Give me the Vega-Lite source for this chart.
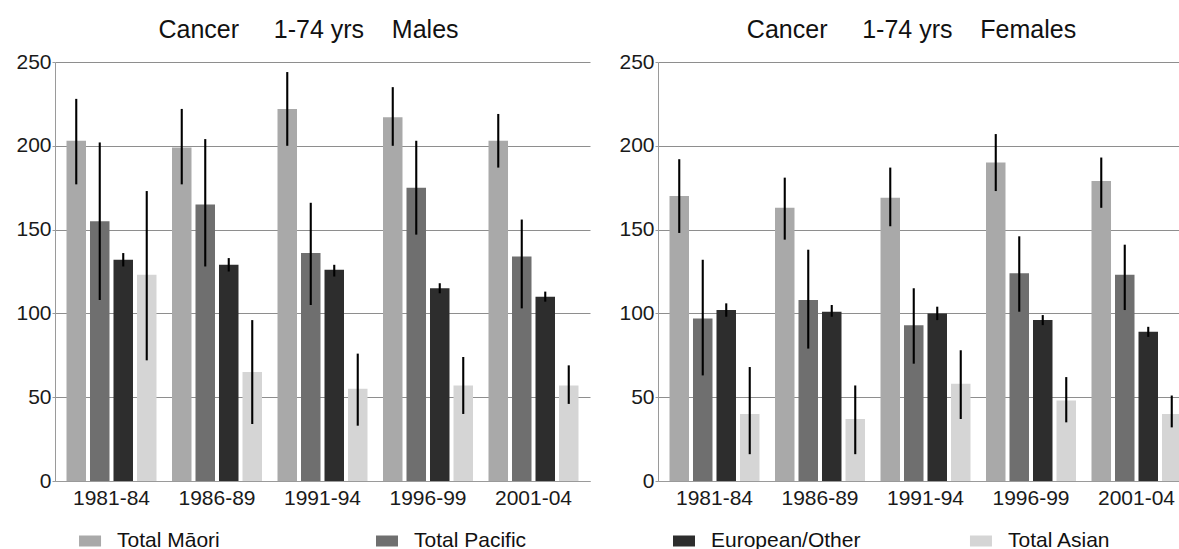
{
  "$schema": "https://vega.github.io/schema/vega-lite/v6.json",
  "background": "white",
  "padding": {"left": 15, "top": 18, "right": 0, "bottom": 0},
  "config": {
    "font": "Liberation Sans",
    "view": {"stroke": null},
    "title": {"fontSize": 25, "fontWeight": "normal", "color": "#111111", "anchor": "middle", "dx": -14, "offset": 8},
    "axis": {"labelFont": "Liberation Sans", "labelFontSize": 21, "labelColor": "#1a1a1a", "domainColor": "#9a9a9a", "tickColor": "#9a9a9a", "title": null},
    "bar": {"stroke": null}
  },
  "datasets": {
    "rates": [
      {"sex": "Males", "period": "1981-84", "group": "Total Māori", "rate": 203, "lo": 177, "hi": 228},
      {"sex": "Males", "period": "1981-84", "group": "Total Pacific", "rate": 155, "lo": 108, "hi": 202},
      {"sex": "Males", "period": "1981-84", "group": "European/Other", "rate": 132, "lo": 128, "hi": 136},
      {"sex": "Males", "period": "1981-84", "group": "Total Asian", "rate": 123, "lo": 72, "hi": 173},
      {"sex": "Males", "period": "1986-89", "group": "Total Māori", "rate": 199, "lo": 177, "hi": 222},
      {"sex": "Males", "period": "1986-89", "group": "Total Pacific", "rate": 165, "lo": 128, "hi": 204},
      {"sex": "Males", "period": "1986-89", "group": "European/Other", "rate": 129, "lo": 125, "hi": 133},
      {"sex": "Males", "period": "1986-89", "group": "Total Asian", "rate": 65, "lo": 34, "hi": 96},
      {"sex": "Males", "period": "1991-94", "group": "Total Māori", "rate": 222, "lo": 200, "hi": 244},
      {"sex": "Males", "period": "1991-94", "group": "Total Pacific", "rate": 136, "lo": 105, "hi": 166},
      {"sex": "Males", "period": "1991-94", "group": "European/Other", "rate": 126, "lo": 122, "hi": 129},
      {"sex": "Males", "period": "1991-94", "group": "Total Asian", "rate": 55, "lo": 33, "hi": 76},
      {"sex": "Males", "period": "1996-99", "group": "Total Māori", "rate": 217, "lo": 200, "hi": 235},
      {"sex": "Males", "period": "1996-99", "group": "Total Pacific", "rate": 175, "lo": 147, "hi": 203},
      {"sex": "Males", "period": "1996-99", "group": "European/Other", "rate": 115, "lo": 112, "hi": 118},
      {"sex": "Males", "period": "1996-99", "group": "Total Asian", "rate": 57, "lo": 40, "hi": 74},
      {"sex": "Males", "period": "2001-04", "group": "Total Māori", "rate": 203, "lo": 187, "hi": 219},
      {"sex": "Males", "period": "2001-04", "group": "Total Pacific", "rate": 134, "lo": 103, "hi": 156},
      {"sex": "Males", "period": "2001-04", "group": "European/Other", "rate": 110, "lo": 107, "hi": 113},
      {"sex": "Males", "period": "2001-04", "group": "Total Asian", "rate": 57, "lo": 46, "hi": 69},
      {"sex": "Females", "period": "1981-84", "group": "Total Māori", "rate": 170, "lo": 148, "hi": 192},
      {"sex": "Females", "period": "1981-84", "group": "Total Pacific", "rate": 97, "lo": 63, "hi": 132},
      {"sex": "Females", "period": "1981-84", "group": "European/Other", "rate": 102, "lo": 98, "hi": 106},
      {"sex": "Females", "period": "1981-84", "group": "Total Asian", "rate": 40, "lo": 16, "hi": 68},
      {"sex": "Females", "period": "1986-89", "group": "Total Māori", "rate": 163, "lo": 144, "hi": 181},
      {"sex": "Females", "period": "1986-89", "group": "Total Pacific", "rate": 108, "lo": 79, "hi": 138},
      {"sex": "Females", "period": "1986-89", "group": "European/Other", "rate": 101, "lo": 98, "hi": 105},
      {"sex": "Females", "period": "1986-89", "group": "Total Asian", "rate": 37, "lo": 16, "hi": 57},
      {"sex": "Females", "period": "1991-94", "group": "Total Māori", "rate": 169, "lo": 152, "hi": 187},
      {"sex": "Females", "period": "1991-94", "group": "Total Pacific", "rate": 93, "lo": 70, "hi": 115},
      {"sex": "Females", "period": "1991-94", "group": "European/Other", "rate": 100, "lo": 96, "hi": 104},
      {"sex": "Females", "period": "1991-94", "group": "Total Asian", "rate": 58, "lo": 37, "hi": 78},
      {"sex": "Females", "period": "1996-99", "group": "Total Māori", "rate": 190, "lo": 173, "hi": 207},
      {"sex": "Females", "period": "1996-99", "group": "Total Pacific", "rate": 124, "lo": 101, "hi": 146},
      {"sex": "Females", "period": "1996-99", "group": "European/Other", "rate": 96, "lo": 93, "hi": 99},
      {"sex": "Females", "period": "1996-99", "group": "Total Asian", "rate": 48, "lo": 35, "hi": 62},
      {"sex": "Females", "period": "2001-04", "group": "Total Māori", "rate": 179, "lo": 163, "hi": 193},
      {"sex": "Females", "period": "2001-04", "group": "Total Pacific", "rate": 123, "lo": 102, "hi": 141},
      {"sex": "Females", "period": "2001-04", "group": "European/Other", "rate": 89, "lo": 86, "hi": 92},
      {"sex": "Females", "period": "2001-04", "group": "Total Asian", "rate": 40, "lo": 32, "hi": 51}
    ]
  },
  "spacing": 22,
  "vconcat": [
    {
      "spacing": 28,
      "hconcat": [
        {
          "width": 535,
          "height": 419,
          "title": "Cancer\u00a0\u00a0\u00a0\u00a0 1-74 yrs\u00a0\u00a0\u00a0 Males",
          "data": {"name": "rates"},
          "transform": [{"filter": "datum.sex === 'Males'"}],
          "encoding": {
            "x": {"field": "period", "type": "nominal", "sort": null,
                  "scale": {"paddingInner": 0.147, "paddingOuter": 0.109},
                  "axis": {"labelAngle": 0, "ticks": false, "labelPadding": 6, "domain": true}},
            "xOffset": {"field": "group", "type": "nominal",
                        "sort": ["Total Māori", "Total Pacific", "European/Other", "Total Asian"],
                        "scale": {"paddingInner": 0.17, "paddingOuter": 0}}
          },
          "layer": [
            {
              "mark": {"type": "bar"},
              "encoding": {
                "y": {"field": "rate", "type": "quantitative",
                      "scale": {"domain": [0, 250], "nice": false},
                      "axis": {"values": [0, 50, 100, 150, 200, 250], "grid": true, "gridColor": "#8e8e8e", "gridWidth": 1, "tickSize": 3, "labelPadding": 1, "domain": true}},
                "color": {"field": "group", "type": "nominal",
                          "sort": ["Total Māori", "Total Pacific", "European/Other", "Total Asian"],
                          "scale": {"domain": ["Total Māori", "Total Pacific", "European/Other", "Total Asian"],
                                    "range": ["#a9a9a9", "#6f6f6f", "#2d2d2d", "#d5d5d5"]},
                          "legend": null}
              }
            },
            {
              "mark": {"type": "rule", "color": "#000000", "strokeWidth": 2.1},
              "encoding": {
                "y": {"field": "lo", "type": "quantitative"},
                "y2": {"field": "hi"}
              }
            }
          ]
        },
        {
          "width": 535,
          "height": 419,
          "title": "Cancer\u00a0\u00a0\u00a0\u00a0 1-74 yrs\u00a0\u00a0\u00a0 Females",
          "data": {"name": "rates"},
          "transform": [{"filter": "datum.sex === 'Females'"}],
          "encoding": {
            "x": {"field": "period", "type": "nominal", "sort": null,
                  "scale": {"paddingInner": 0.147, "paddingOuter": 0.109},
                  "axis": {"labelAngle": 0, "ticks": false, "labelPadding": 6, "domain": true}},
            "xOffset": {"field": "group", "type": "nominal",
                        "sort": ["Total Māori", "Total Pacific", "European/Other", "Total Asian"],
                        "scale": {"paddingInner": 0.17, "paddingOuter": 0}}
          },
          "layer": [
            {
              "mark": {"type": "bar"},
              "encoding": {
                "y": {"field": "rate", "type": "quantitative",
                      "scale": {"domain": [0, 250], "nice": false},
                      "axis": {"values": [0, 50, 100, 150, 200, 250], "grid": true, "gridColor": "#8e8e8e", "gridWidth": 1, "tickSize": 3, "labelPadding": 1, "domain": true}},
                "color": {"field": "group", "type": "nominal",
                          "sort": ["Total Māori", "Total Pacific", "European/Other", "Total Asian"],
                          "legend": null}
              }
            },
            {
              "mark": {"type": "rule", "color": "#000000", "strokeWidth": 2.1},
              "encoding": {
                "y": {"field": "lo", "type": "quantitative"},
                "y2": {"field": "hi"}
              }
            }
          ]
        }
      ]
    },
    {
      "width": 961,
      "height": 20,
      "data": {"name": "rates"},
      "transform": [{"filter": "datum.sex === 'Males' && datum.period === '1981-84'"}],
      "encoding": {
        "x": {"field": "group", "type": "nominal",
              "sort": ["Total Māori", "Total Pacific", "European/Other", "Total Asian"],
              "scale": {"type": "point", "padding": 0.118},
              "axis": null}
      },
      "layer": [
        {
          "mark": {"type": "point", "shape": "M-1,-0.5H1V0.5H-1Z", "filled": true, "size": 484, "opacity": 1, "strokeWidth": 0},
          "encoding": {
            "color": {"field": "group", "type": "nominal",
                      "sort": ["Total Māori", "Total Pacific", "European/Other", "Total Asian"],
                      "legend": null}
          }
        },
        {
          "mark": {"type": "text", "align": "left", "baseline": "middle", "dx": 27, "fontSize": 21, "color": "#111111"},
          "encoding": {"text": {"field": "group"}}
        }
      ]
    }
  ]
}
